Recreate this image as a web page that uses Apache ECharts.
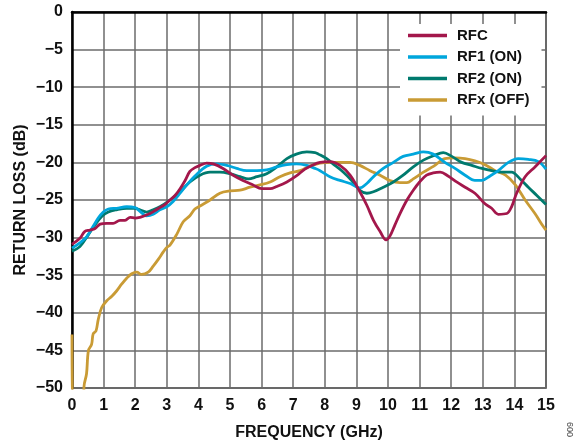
<!DOCTYPE html>
<html>
<head>
<meta charset="utf-8">
<script src="https://cdn.jsdelivr.net/npm/echarts@6/dist/echarts.min.js"></script>
<style>
html,body{margin:0;padding:0;background:#fff;}
#c{width:583px;height:446px;}
</style>
</head>
<body>
<div id="c"></div>
<script>
// ---- data ----
const seriesNames = ['RFC', 'RF1 (ON)', 'RF2 (ON)', 'RFx (OFF)'];
const xTicks = [0,1,2,3,4,5,6,7,8,9,10,11,12,13,14,15];
const yTicks = [0,-5,-10,-15,-20,-25,-30,-35,-40,-45,-50];

const rfcF = [0,0.25,0.4,0.57,0.73,0.89,1.1,1.3,1.52,1.68,1.84,2.0,2.15,2.3,2.47,2.63,2.78,2.94,3.1,3.26,3.42,3.58,3.73,3.89,4.05,4.26,4.47,4.78,5.1,5.41,5.73,6.0,6.27,6.48,6.8,7.1,7.37,7.64,7.85,8.16,8.48,8.8,9.11,9.33,9.54,9.75,9.94,10.06,10.22,10.38,10.6,10.8,11.0,11.22,11.43,11.65,11.9,12.17,12.44,12.75,13.07,13.28,13.49,13.76,13.91,14.07,14.34,14.65,15.0];
const rfcV = [-30.9,-30.1,-29.2,-29.0,-28.8,-28.2,-28.1,-28.1,-27.7,-27.7,-27.3,-27.4,-27.3,-27.1,-26.8,-26.4,-26.0,-25.6,-25.0,-24.4,-23.5,-22.4,-21.2,-20.7,-20.4,-20.1,-20.2,-20.8,-21.7,-22.4,-23.0,-23.5,-23.5,-23.2,-22.6,-21.8,-20.9,-20.3,-20.0,-19.9,-20.4,-21.7,-23.9,-25.7,-27.7,-29.2,-30.3,-29.8,-28.3,-26.8,-25.0,-23.7,-22.6,-21.7,-21.4,-21.3,-21.8,-22.6,-23.3,-24.1,-25.5,-26.1,-26.9,-26.8,-25.9,-24.1,-21.9,-20.6,-19.1];

const rf1F = [0,0.25,0.46,0.67,0.83,0.99,1.15,1.41,1.73,1.99,2.15,2.36,2.57,2.78,3.0,3.2,3.42,3.63,3.89,4.26,4.58,4.9,5.21,5.53,5.85,6.16,6.48,6.8,7.1,7.43,7.69,7.85,8.16,8.48,8.8,9.11,9.33,9.54,9.85,10.17,10.48,10.8,11.12,11.43,11.8,12.12,12.44,12.75,12.97,13.23,13.49,13.81,14.12,14.44,14.76,15.0];
const rf1V = [-31.4,-30.7,-29.9,-28.5,-27.4,-26.6,-26.2,-26.1,-25.9,-26.0,-26.5,-27.1,-26.9,-26.3,-25.9,-25.2,-24.1,-23.0,-21.8,-20.5,-20.2,-20.4,-20.8,-21.1,-21.1,-21.0,-20.6,-20.3,-20.2,-20.4,-20.8,-21.1,-21.9,-22.4,-22.8,-23.4,-22.8,-21.9,-20.8,-20.0,-19.2,-18.9,-18.6,-18.9,-20.0,-20.8,-21.7,-22.4,-22.4,-21.8,-21.1,-20.0,-19.5,-19.6,-19.9,-20.9];

const rf2F = [0,0.25,0.52,0.73,0.94,1.15,1.41,1.73,1.99,2.15,2.36,2.57,2.78,3.1,3.42,3.73,4.05,4.37,4.68,5.0,5.32,5.58,5.85,6.16,6.48,6.8,7.1,7.43,7.69,7.8,8.06,8.32,8.59,8.85,9.11,9.33,9.54,9.85,10.17,10.48,10.8,11.12,11.45,11.75,12.02,12.33,12.65,12.97,13.28,13.6,13.91,14.18,14.44,14.71,15.0];
const rf2V = [-31.8,-31.2,-29.6,-28.3,-27.2,-26.6,-26.3,-26.1,-26.1,-26.3,-26.6,-26.3,-25.9,-25.0,-23.9,-22.6,-21.7,-21.3,-21.3,-21.5,-21.9,-22.2,-21.9,-21.5,-20.6,-19.5,-18.9,-18.6,-18.7,-18.9,-19.5,-20.4,-21.3,-22.4,-23.7,-24.1,-23.9,-23.3,-22.6,-21.7,-20.6,-19.7,-19.1,-18.7,-19.2,-20.0,-20.4,-20.8,-21.1,-21.3,-21.3,-22.2,-23.3,-24.4,-25.6];

const rfxF = [0,0.05,0.36,0.38,0.46,0.52,0.62,0.67,0.76,0.83,0.94,1.1,1.26,1.41,1.57,1.73,1.89,2.05,2.2,2.41,2.57,2.73,2.89,3.0,3.1,3.31,3.52,3.73,3.89,4.05,4.37,4.68,5.0,5.32,5.63,5.95,6.27,6.58,6.9,7.22,7.53,7.85,8.16,8.48,8.8,9.11,9.43,9.75,10.06,10.38,10.6,10.8,11.12,11.45,11.8,12.12,12.44,12.75,13.07,13.39,13.72,14.03,14.34,14.65,14.91,15.0];
const rfxV = [-42.9,-55,-55,-49.8,-48.1,-45.0,-44.2,-42.8,-42.4,-40.9,-39.3,-38.4,-37.8,-37.1,-36.2,-35.4,-34.8,-34.6,-34.9,-34.6,-33.8,-32.9,-31.9,-31.3,-31.0,-29.6,-27.9,-27.1,-26.2,-25.8,-25.0,-24.1,-23.8,-23.7,-23.3,-23.0,-22.6,-21.9,-21.4,-21.1,-20.5,-20.1,-20.0,-20.0,-20.0,-20.4,-21.1,-21.7,-22.4,-22.7,-22.7,-22.2,-21.3,-20.5,-19.5,-19.4,-19.5,-19.8,-20.3,-21.1,-21.7,-23.0,-25.0,-26.8,-28.5,-29.0];

const colors = ['#A3174B', '#00A6DC', '#007A6E', '#C99B35'];

function pairs(f, v){ return f.map((x,i)=>[x, v[i]]); }
const FONT = '"Liberation Sans", Arial, sans-serif';
const minus = v => (v < 0 ? '\u2212' + Math.abs(v) : String(v));

const chart = echarts.init(document.getElementById('c'), null, {renderer:'canvas'});
const mk = (name, f, v, col, z) => ({
  name, type:'line', data: pairs(f, v), showSymbol:false, symbol:'none',
  smooth:0.35, clip:true, z,
  lineStyle:{color:col, width:2.8}, itemStyle:{color:col}
});
chart.setOption({
  animation:false,
  backgroundColor:'#fff',
  grid:{left:72, right:37, top:12, bottom:55, show:true, borderColor:'#333', borderWidth:1.5},
  xAxis:{
    type:'value', min:0, max:15, interval:1,
    name:'FREQUENCY (GHz)', nameLocation:'middle', nameGap:37, nameMoveOverlap:false,
    nameTextStyle:{fontFamily:FONT, fontWeight:'bold', fontSize:16, color:'#111'},
    axisLine:{lineStyle:{color:'#000', width:2.5}},
    axisTick:{show:false},
    axisLabel:{fontFamily:FONT, fontWeight:'bold', fontSize:16, color:'#111', margin:10, formatter: v => String(v)},
    splitLine:{show:true, lineStyle:{color:'#6b6b6b', width:1.5}}
  },
  yAxis:{
    type:'value', min:-50, max:0, interval:5,
    name:'RETURN LOSS (dB)', nameLocation:'middle', nameGap:43, nameMoveOverlap:false,
    nameTextStyle:{fontFamily:FONT, fontWeight:'bold', fontSize:16, color:'#111'},
    axisLine:{lineStyle:{color:'#000', width:2.5}},
    axisTick:{show:false},
    axisLabel:{fontFamily:FONT, fontWeight:'bold', fontSize:16, color:'#111', margin:9, padding:[0,0,4,0], formatter: minus},
    splitLine:{show:true, lineStyle:{color:'#6b6b6b', width:1.5}}
  },
  legend:{
    data: seriesNames, orient:'vertical', left:400, top:24,
    backgroundColor:'#fff', padding:[4,12,8,8], itemGap:6.5,
    icon:'rect', itemWidth:39, itemHeight:3.5,
    textStyle:{fontFamily:FONT, fontWeight:'bold', fontSize:15, color:'#111', padding:[0,0,0,5]}
  },
  graphic:[{type:'text', left:566, top:422, rotation:Math.PI/2,
    style:{text:'009', font:'9px "Liberation Sans", Arial, sans-serif', fill:'#444'}}],
  series:[
    mk(seriesNames[3], rfxF, rfxV, colors[3], 2),
    mk(seriesNames[2], rf2F, rf2V, colors[2], 3),
    mk(seriesNames[1], rf1F, rf1V, colors[1], 4),
    mk(seriesNames[0], rfcF, rfcV, colors[0], 5)
  ]
});
</script>
</body>
</html>
